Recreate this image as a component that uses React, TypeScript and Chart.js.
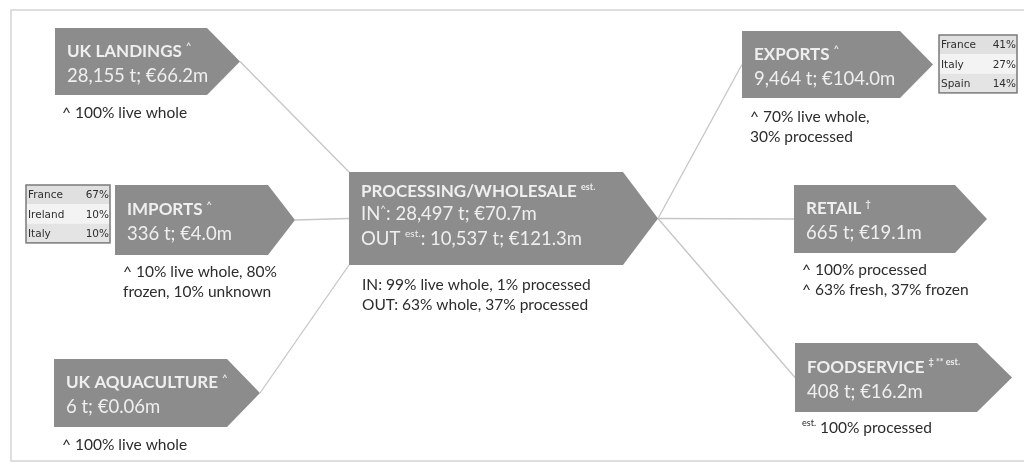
import { useEffect, useRef } from "react";
import { Chart, registerables } from "chart.js";

Chart.register(...registerables);

// ---------- data ----------
const stageNames = ["UK LANDINGS", "IMPORTS", "UK AQUACULTURE", "PROCESSING/WHOLESALE", "EXPORTS", "RETAIL", "FOODSERVICE"];
const stageMarks = ["^", "^", "^", "est.", "^", "\u2020", "\u2021 ** est."];
const stageTonnes = [28155, 336, 6, 28497, 9464, 665, 408];
const stageValueEurM = [66.2, 4.0, 0.06, 70.7, 104.0, 19.1, 16.2];
const processingOutTonnes = 10537;
const processingOutValueEurM = 121.3;
const stageNotes = [
  ["^ 100% live whole"],
  ["^ 10% live whole, 80%", "frozen, 10% unknown"],
  ["^ 100% live whole"],
  ["IN: 99% live whole, 1% processed", "OUT: 63% whole, 37% processed"],
  ["^ 70% live whole,", "30% processed"],
  ["^ 100% processed", "^ 63% fresh, 37% frozen"],
  ["{est.} 100% processed"],
];
const importCountries = ["France", "Ireland", "Italy"];
const importShares = [67, 10, 10];
const exportCountries = ["France", "Italy", "Spain"];
const exportShares = [41, 27, 14];
const flowFrom = [0, 1, 2, 3, 3, 3];
const flowTo = [3, 3, 3, 4, 5, 6];

// ---------- layout (diagram space 1024 x 463) ----------
const boxes = [
  { x: 55, rx: 207, tip: 240, top: 28, bottom: 95 },
  { x: 115, rx: 268, tip: 295, top: 185, bottom: 255 },
  { x: 54, rx: 227, tip: 260, top: 359, bottom: 427 },
  { x: 349, rx: 623, tip: 658, top: 172, bottom: 265 },
  { x: 742, rx: 900, tip: 933, top: 31, bottom: 98 },
  { x: 794, rx: 955, tip: 987, top: 185, bottom: 253 },
  { x: 795, rx: 977, tip: 1012, top: 343, bottom: 412 },
];
const flowAnchor = ["top", "mid", "bottom", "mid", "mid", "mid"];
const notePos = [
  { x: 62, y: 118 },
  { x: 123, y: 277 },
  { x: 62, y: 450 },
  { x: 362, y: 290 },
  { x: 750, y: 122 },
  { x: 802, y: 275 },
  { x: 802, y: 433 },
];
const importTable = { x: 26, y: 185, w: 84, rowH: 19.3 };
const exportTable = { x: 939, y: 35, w: 78, rowH: 19.3 };

const FONT = "Lato, 'Open Sans', sans-serif";
const BOX_FILL = "#8c8c8c";
const BOX_TEXT = "#efefef";
const NOTE_TEXT = "#2c2c2c";
const LINE_COLOR = "#c6c6c6";

const fmtT = (t: number) => t.toLocaleString("en-US") + " t";
const fmtV = (v: number) => "\u20ac" + (v < 1 ? v.toFixed(2) : v.toFixed(1)) + "m";

function drawRich(ctx: CanvasRenderingContext2D, text: string, x: number, y: number, size: number, weight: string, color: string) {
  const parts = text.split(/(\{[^}]*\})/);
  let cx = x;
  ctx.fillStyle = color;
  ctx.textBaseline = "alphabetic";
  ctx.textAlign = "left";
  for (const p of parts) {
    if (!p) continue;
    if (p.startsWith("{")) {
      const s = p.slice(1, -1);
      const ss = Math.round(size * 0.55);
      ctx.font = `${weight} ${ss}px ${FONT}`;
      ctx.fillText(s, cx, y - size * 0.42);
      cx += ctx.measureText(s).width;
    } else {
      ctx.font = `${weight} ${size}px ${FONT}`;
      ctx.fillText(p, cx, y);
      cx += ctx.measureText(p).width;
    }
  }
}

function buildFlowDatasets() {
  return flowFrom.map((f, k) => {
    const s = boxes[f];
    const t = boxes[flowTo[k]];
    const tm = (t.top + t.bottom) / 2;
    const a = flowAnchor[k];
    const ty = a === "top" ? t.top : a === "bottom" ? t.bottom : tm;
    return {
      label: stageNames[f] + " -> " + stageNames[flowTo[k]],
      data: [
        { x: s.tip, y: (s.top + s.bottom) / 2 },
        { x: t.x, y: ty },
      ],
      showLine: true,
      borderColor: LINE_COLOR,
      borderWidth: 1.3,
      pointRadius: 0,
      pointHoverRadius: 0,
    };
  });
}

function drawTable(ctx: CanvasRenderingContext2D, sx: (v: number) => number, sy: (v: number) => number, tb: any, names: string[], shares: number[]) {
  const rowFills = ["#e0e0e0", "#f3f3f3", "#e4e4e4"];
  const x0 = sx(tb.x), x1 = sx(tb.x + tb.w);
  names.forEach((n, r) => {
    const y0 = sy(tb.y + r * tb.rowH), y1 = sy(tb.y + (r + 1) * tb.rowH);
    ctx.fillStyle = rowFills[r % 3];
    ctx.fillRect(x0, y0, x1 - x0, y1 - y0);
    ctx.font = `10.5px 'DejaVu Sans', sans-serif`;
    ctx.fillStyle = "#2e2e2e";
    ctx.textBaseline = "middle";
    ctx.textAlign = "left";
    ctx.fillText(n, x0 + 2, (y0 + y1) / 2 + 1);
    ctx.textAlign = "right";
    ctx.fillText(shares[r] + "%", x1 - 1, (y0 + y1) / 2 + 1);
  });
  ctx.strokeStyle = "#7a7a7a";
  ctx.lineWidth = 1.5;
  ctx.strokeRect(x0, sy(tb.y), x1 - x0, sy(tb.y + names.length * tb.rowH) - sy(tb.y));
}

const diagramPlugin = {
  id: "flowDiagram",
  beforeDatasetsDraw(chart: any) {
    const ctx: CanvasRenderingContext2D = chart.ctx;
    const sx = (v: number) => chart.scales.x.getPixelForValue(v);
    const sy = (v: number) => chart.scales.y.getPixelForValue(v);
    ctx.save();
    ctx.fillStyle = "#ffffff";
    ctx.fillRect(0, 0, chart.width, chart.height);
    ctx.strokeStyle = "#d4d4d4";
    ctx.lineWidth = 1.5;
    ctx.strokeRect(sx(11), sy(10), sx(1030) - sx(11), sy(461) - sy(10));
    ctx.restore();
  },
  afterDatasetsDraw(chart: any) {
    const ctx: CanvasRenderingContext2D = chart.ctx;
    const sx = (v: number) => chart.scales.x.getPixelForValue(v);
    const sy = (v: number) => chart.scales.y.getPixelForValue(v);
    ctx.save();
    boxes.forEach((b, i) => {
      const mid = (b.top + b.bottom) / 2;
      ctx.beginPath();
      ctx.moveTo(sx(b.x), sy(b.top));
      ctx.lineTo(sx(b.rx), sy(b.top));
      ctx.lineTo(sx(b.tip), sy(mid));
      ctx.lineTo(sx(b.rx), sy(b.bottom));
      ctx.lineTo(sx(b.x), sy(b.bottom));
      ctx.closePath();
      ctx.fillStyle = BOX_FILL;
      ctx.fill();

      const tx = sx(b.x + 12);
      const title = stageNames[i] + " {" + stageMarks[i] + "}";
      if (i === 3) {
        drawRich(ctx, title, tx, sy(mid - 21.5), 17, "bold", BOX_TEXT);
        drawRich(ctx, "IN{^}: " + fmtT(stageTonnes[i]) + "; " + fmtV(stageValueEurM[i]), tx, sy(mid + 1.5), 18.5, "normal", BOX_TEXT);
        drawRich(ctx, "OUT {est.}: " + fmtT(processingOutTonnes) + "; " + fmtV(processingOutValueEurM), tx, sy(mid + 26.5), 18.5, "normal", BOX_TEXT);
      } else {
        drawRich(ctx, title, tx, sy(mid - 5), 17, "bold", BOX_TEXT);
        drawRich(ctx, fmtT(stageTonnes[i]) + "; " + fmtV(stageValueEurM[i]), tx, sy(mid + 20), 18.5, "normal", BOX_TEXT);
      }
      const np = notePos[i];
      stageNotes[i].forEach((line, k) => {
        drawRich(ctx, line, sx(np.x), sy(np.y + k * 19.5), 15.5, "normal", NOTE_TEXT);
      });
    });
    drawTable(ctx, sx, sy, importTable, importCountries, importShares);
    drawTable(ctx, sx, sy, exportTable, exportCountries, exportShares);
    ctx.restore();
  },
};

export default function App() {
  const ref = useRef<HTMLCanvasElement | null>(null);
  useEffect(() => {
    document.body.style.margin = "0";
    const canvas = ref.current;
    if (!canvas) return;
    const chart = new Chart(canvas, {
      type: "scatter",
      data: { datasets: buildFlowDatasets() as any },
      options: {
        animation: false,
        responsive: false,
        maintainAspectRatio: false,
        devicePixelRatio: 1,
        layout: { padding: 0 },
        events: [],
        plugins: { legend: { display: false }, tooltip: { enabled: false } },
        scales: {
          x: { type: "linear", min: 0, max: 1024, display: false },
          y: { type: "linear", min: 0, max: 463, reverse: true, display: false },
        },
      },
      plugins: [diagramPlugin],
    });
    return () => chart.destroy();
  }, []);
  return (
    <div style={{ width: 1024, height: 463, background: "#fff" }}>
      <canvas ref={ref} width={1024} height={463} style={{ display: "block" }} />
    </div>
  );
}
